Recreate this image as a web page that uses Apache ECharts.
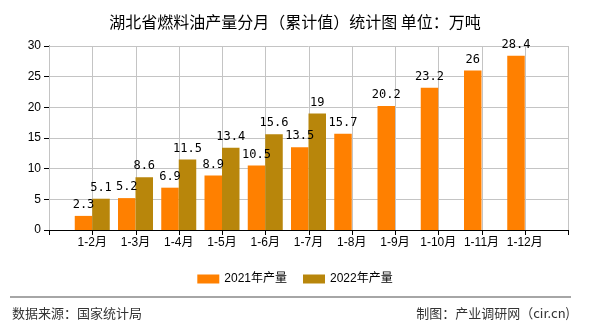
<!DOCTYPE html>
<html>
<head>
<meta charset="utf-8">
<script src="https://cdn.jsdelivr.net/npm/echarts@6/dist/echarts.min.js"></script>
<style>
html,body{margin:0;padding:0;background:#fff;}
#c{width:590px;height:330px;}
</style>
</head>
<body>
<div id="c"></div>
<script>
var months = ['1-2月','1-3月','1-4月','1-5月','1-6月','1-7月','1-8月','1-9月','1-10月','1-11月','1-12月'];
var output2021 = [2.3, 5.2, 6.9, 8.9, 10.5, 13.5, 15.7, 20.2, 23.2, 26, 28.4];
var output2022 = [5.1, 8.6, 11.5, 13.4, 15.6, 19];
var yTicks = [0, 5, 10, 15, 20, 25, 30];

var cats = [''].concat(months).concat(['']);
function pad(arr) {
  var out = [null];
  for (var i = 0; i < months.length; i++) out.push(i < arr.length ? arr[i] : null);
  out.push(null);
  return out;
}
var yMin = yTicks[0], yMax = yTicks[yTicks.length - 1];
var gridRows = cats.map(function (c, i) { return [i, yMax]; });

var monoFont = '"DejaVu Sans Mono", "Noto Sans CJK SC", monospace';
var sansFont = '"Liberation Sans", "Noto Sans CJK SC", sans-serif';
var labelStyle = {
  show: true, position: 'top', distance: 5, color: '#000',
  fontSize: 12, fontFamily: monoFont
};

function renderGrid(params, api) {
  var i = api.value(0);
  var pTop = api.coord([i, api.value(1)]);
  var pBot = api.coord([i, yMin]);
  var x = Math.round(pBot[0]) + 0.5;
  return {
    type: 'group',
    children: [
      {type: 'line', shape: {x1: x, y1: pTop[1], x2: x, y2: pBot[1]}, style: {stroke: '#c4c4c4', lineWidth: 1}},
      {type: 'line', shape: {x1: x, y1: pBot[1], x2: x, y2: pBot[1] + 5}, style: {stroke: '#000', lineWidth: 1}}
    ]
  };
}

var chart = echarts.init(document.getElementById('c'), null, {renderer: 'canvas'});
chart.setOption({
  animation: false,
  backgroundColor: '#fff',
  title: {
    text: '湖北省燃料油产量分月（累计值）统计图 单位：万吨',
    left: 'center', top: 8,
    textStyle: {fontSize: 16, fontWeight: 'normal', color: '#000', fontFamily: '"Noto Sans CJK SC", sans-serif', lineHeight: 18}
  },
  legend: {
    top: 268, left: 'center',
    itemWidth: 22, itemHeight: 9, itemGap: 16,
    icon: 'rect',
    textStyle: {fontSize: 12, color: '#000', fontFamily: sansFont},
    data: ['2021年产量', '2022年产量']
  },
  grid: {left: 49, right: 22, top: 46, bottom: 100, containLabel: false},
  xAxis: {
    type: 'category', data: cats, boundaryGap: false,
    axisLine: {lineStyle: {color: '#000', width: 1}},
    axisTick: {show: false},
    axisLabel: {color: '#000', fontSize: 12, margin: 7, interval: 0, fontFamily: sansFont},
    splitLine: {show: false}
  },
  yAxis: {
    type: 'value', min: yMin, max: yMax, interval: 5,
    axisLine: {show: true, lineStyle: {color: '#000', width: 1}},
    axisTick: {show: true, length: 5, lineStyle: {color: '#000'}},
    axisLabel: {color: '#000', fontSize: 12, margin: 8, fontFamily: sansFont},
    splitLine: {show: true, lineStyle: {color: '#c4c4c4', width: 1}}
  },
  series: [
    {type: 'custom', z: 1, silent: true, clip: false, data: gridRows, renderItem: renderGrid,
     encode: {x: 0, y: 1}},
    {name: '2021年产量', type: 'bar', z: 3, data: pad(output2021), barWidth: 17.5, barGap: '0%',
     itemStyle: {color: '#FF8000'}, label: labelStyle},
    {name: '2022年产量', type: 'bar', z: 3, data: pad(output2022), barWidth: 17.5, barGap: '0%',
     itemStyle: {color: '#B8860B'}, label: labelStyle}
  ],
  graphic: [
    {type: 'line', shape: {x1: 10, y1: 297, x2: 571, y2: 297}, style: {stroke: '#888', lineWidth: 1.5}},
    {type: 'text', left: 12, top: 307, style: {text: '数据来源：国家统计局', fontSize: 13, fill: '#333', fontFamily: '"Noto Sans CJK SC", sans-serif'}},
    {type: 'text', right: 20, top: 307, style: {text: '制图：产业调研网（cir.cn)', fontSize: 13, fill: '#333', fontFamily: '"Noto Sans CJK SC", sans-serif'}}
  ]
});
</script>
</body>
</html>
